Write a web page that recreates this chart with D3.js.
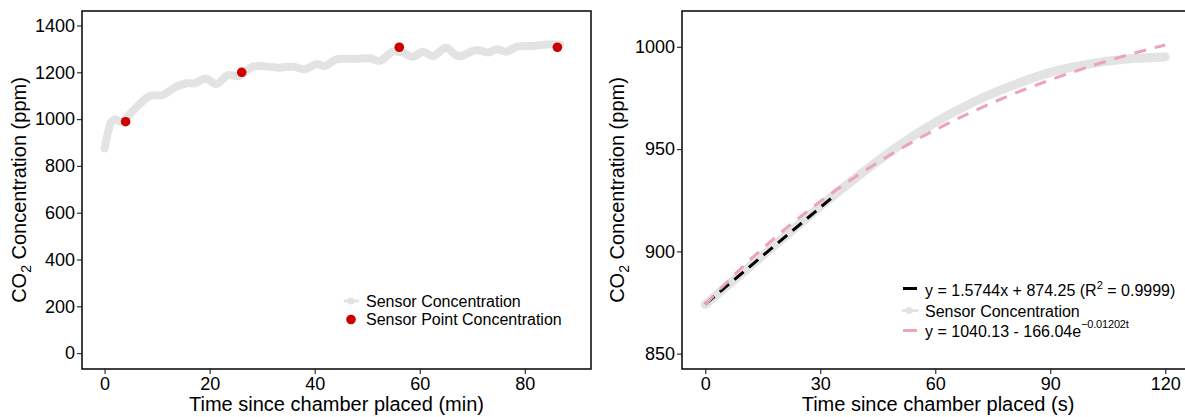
<!DOCTYPE html>
<html>
<head>
<meta charset="utf-8">
<script src="https://cdnjs.cloudflare.com/ajax/libs/d3/7.8.5/d3.min.js"></script>
<style>
  body { margin: 0; background: #fff; }
  text { font-family: "Liberation Sans", Arial, sans-serif; fill: #000; }
</style>
</head>
<body>
<svg id="chart" width="1185" height="417"></svg>
<script>
// left panel: long deployment, minutes
var minTime = [0, 0.6, 1.3, 1.9, 3.2, 5.4, 8.6, 11.1, 13.0, 15.6, 17.1, 19.2, 21.3, 23.5, 25.6, 28.3, 33.3, 35.9, 38.1, 40.3, 41.9, 44.1, 47.9, 50.5, 52.4, 54.9, 56.8, 58.7, 60.6, 62.5, 65.0, 67.3, 70.8, 73.0, 74.6, 76.5, 78.4, 81.6, 84.1, 86.7];
var minConc = [875, 939, 989, 999, 989, 1036, 1099, 1103, 1131, 1153, 1153, 1174, 1150, 1188, 1184, 1224, 1220, 1224, 1213, 1235, 1227, 1255, 1257, 1260, 1249, 1288, 1284, 1266, 1288, 1269, 1305, 1269, 1295, 1285, 1298, 1288, 1309, 1313, 1319, 1319];
var pointTime = [4.0, 26.1, 56.1, 86.2];
var pointConc = [989, 1200, 1307, 1307];
var leftYTicks = [0, 200, 400, 600, 800, 1000, 1200, 1400];
var leftXTicks = [0, 20, 40, 60, 80];

// right panel: first two minutes, seconds
var secTime = [0, 10, 20, 30, 40, 50, 60, 70, 80, 90, 100, 110, 120];
var secConc = [874, 890, 906, 922, 937, 951, 963, 973, 981, 987.5, 991.5, 994, 995];
var linTime = [0, 33];
var linConc = [874.25, 926.2];
var expTime = [0, 10, 20, 30, 40, 50, 60, 70, 80, 90, 100, 110, 120];
var expConc = [874.1, 892.9, 909.6, 924.4, 937.5, 949.1, 959.4, 968.5, 976.7, 983.8, 990.2, 995.9, 1000.9];
var rightYTicks = [850, 900, 950, 1000];
var rightXTicks = [0, 30, 60, 90, 120];

var svg = d3.select('#chart');
var gray = '#e3e3e3', red = '#cc0000', pink = '#eca4b6';

function zip(xs, ys) {
  return xs.map(function(x, i) { return [x, ys[i]]; });
}

function panel(opt) {
  var x = d3.scaleLinear().domain(opt.xDomain).range([opt.left, opt.right]);
  var y = d3.scaleLinear().domain(opt.yDomain).range([opt.bottom, opt.top]);
  var g = svg.append('g');

  var yAxis = g.append('g').attr('transform', 'translate(' + opt.left + ',0)')
    .call(d3.axisLeft(y).tickValues(opt.yTicks).tickSize(5).tickPadding(2).tickFormat(d3.format('d')));
  var xAxis = g.append('g').attr('transform', 'translate(0,' + opt.bottom + ')')
    .call(d3.axisBottom(x).tickValues(opt.xTicks).tickSize(5).tickPadding(3).tickFormat(d3.format('d')));
  [yAxis, xAxis].forEach(function(a) {
    a.select('.domain').remove();
    a.attr('font-size', null).attr('font-family', null);
    a.selectAll('line').attr('stroke', '#333').attr('stroke-width', 1.2);
    a.selectAll('text').style('font-size', '18px').attr('fill', '#000');
  });

  // plot frame
  g.append('rect')
    .attr('x', opt.left).attr('y', opt.top)
    .attr('width', opt.right - opt.left).attr('height', opt.bottom - opt.top)
    .attr('fill', 'none').attr('stroke', '#111').attr('stroke-width', 1.6);

  g.append('text')
    .attr('x', (opt.left + opt.right) / 2).attr('y', 411)
    .attr('text-anchor', 'middle').style('font-size', '20px')
    .text(opt.xTitle);

  var yt = g.append('text')
    .attr('transform', 'translate(' + opt.yTitleX + ',' + (opt.top + opt.bottom) / 2 + ') rotate(-90)')
    .attr('text-anchor', 'middle').style('font-size', '20px');
  yt.append('tspan').text('CO');
  yt.append('tspan').attr('dy', 5).style('font-size', '14px').text('2');
  yt.append('tspan').attr('dy', -5).text(' Concentration (ppm)');

  return { g: g, x: x, y: y };
}

// ---- left panel
var L = panel({
  left: 82, right: 591, top: 11, bottom: 369,
  xDomain: [-4.3, 92.6], yDomain: [-68, 1462],
  xTicks: leftXTicks, yTicks: leftYTicks,
  xTitle: 'Time since chamber placed (min)', yTitleX: 26
});

var lineL = d3.line()
  .x(function(d) { return L.x(d[0]); })
  .y(function(d) { return L.y(d[1]); })
  .curve(d3.curveCatmullRom);

L.g.append('path')
  .datum(zip(minTime, minConc))
  .attr('d', lineL)
  .attr('fill', 'none').attr('stroke', gray).attr('stroke-width', 8)
  .attr('stroke-linecap', 'round').attr('stroke-linejoin', 'round');

L.g.selectAll('circle.pt')
  .data(zip(pointTime, pointConc))
  .enter().append('circle').attr('class', 'pt')
  .attr('cx', function(d) { return L.x(d[0]); })
  .attr('cy', function(d) { return L.y(d[1]); })
  .attr('r', 4.8).attr('fill', red);

// left legend
var lg = L.g.append('g');
lg.append('line').attr('x1', 345).attr('x2', 358).attr('y1', 301).attr('y2', 301)
  .attr('stroke', gray).attr('stroke-width', 3).attr('stroke-linecap', 'round');
lg.append('circle').attr('cx', 351).attr('cy', 301).attr('r', 3.5).attr('fill', gray);
lg.append('text').attr('x', 366).attr('y', 307).style('font-size', '16px').text('Sensor Concentration');
lg.append('circle').attr('cx', 351).attr('cy', 319.5).attr('r', 4.8).attr('fill', red);
lg.append('text').attr('x', 366).attr('y', 325).style('font-size', '16px').text('Sensor Point Concentration');

// ---- right panel
var R = panel({
  left: 682, right: 1194, top: 11, bottom: 369,
  xDomain: [-6.07, 127.5], yDomain: [842.5, 1017.5],
  xTicks: rightXTicks, yTicks: rightYTicks,
  xTitle: 'Time since chamber placed (s)', yTitleX: 624
});

var lineR = d3.line()
  .x(function(d) { return R.x(d[0]); })
  .y(function(d) { return R.y(d[1]); })
  .curve(d3.curveMonotoneX);

R.g.append('path').datum(zip(secTime, secConc)).attr('d', lineR)
  .attr('fill', 'none').attr('stroke', gray).attr('stroke-width', 9)
  .attr('stroke-linecap', 'round');

R.g.append('path').datum(zip(linTime, linConc)).attr('d', lineR)
  .attr('fill', 'none').attr('stroke', '#000').attr('stroke-width', 3)
  .attr('stroke-dasharray', '12,7');

R.g.append('path').datum(zip(expTime, expConc)).attr('d', lineR)
  .attr('fill', 'none').attr('stroke', pink).attr('stroke-width', 3)
  .attr('stroke-dasharray', '12,9');

// right legend
var rg = R.g.append('g');
rg.append('line').attr('x1', 903).attr('x2', 917).attr('y1', 288.5).attr('y2', 288.5)
  .attr('stroke', '#000').attr('stroke-width', 3);
var t1 = rg.append('text').attr('x', 925).attr('y', 296).style('font-size', '16px');
t1.append('tspan').text('y = 1.5744x + 874.25 (R');
t1.append('tspan').attr('dy', -7).style('font-size', '11px').text('2');
t1.append('tspan').attr('dy', 7).text(' = 0.9999)');

rg.append('line').attr('x1', 903).attr('x2', 917).attr('y1', 310.5).attr('y2', 310.5)
  .attr('stroke', gray).attr('stroke-width', 3).attr('stroke-linecap', 'round');
rg.append('circle').attr('cx', 909).attr('cy', 310.5).attr('r', 3.5).attr('fill', gray);
rg.append('text').attr('x', 925).attr('y', 316.5).style('font-size', '16px').text('Sensor Concentration');

rg.append('line').attr('x1', 903).attr('x2', 917).attr('y1', 330.5).attr('y2', 330.5)
  .attr('stroke', pink).attr('stroke-width', 3);
var t3 = rg.append('text').attr('x', 925).attr('y', 336.5).style('font-size', '16px');
t3.append('tspan').text('y = 1040.13 - 166.04e');
// the exponent's last glyphs print on top of each other in the source figure
t3.append('tspan').attr('dy', -9).style('font-size', '11px').style('letter-spacing', '-0.2px')
  .text('\u22120.01202t');
</script>
</body>
</html>
